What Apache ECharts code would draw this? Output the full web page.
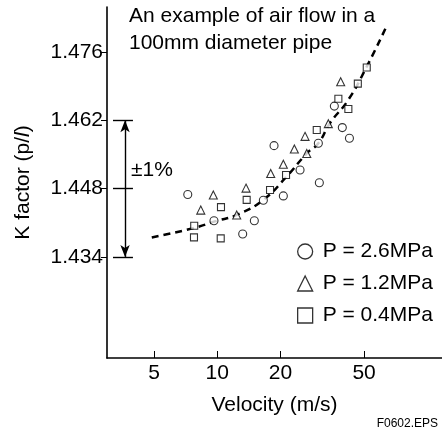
<!DOCTYPE html>
<html><head><meta charset="utf-8">
<script src="https://cdn.jsdelivr.net/npm/echarts@6/dist/echarts.min.js"></script>
<style>html,body{margin:0;padding:0;background:#fff}#c{width:442px;height:438px}</style>
</head><body><div id="c"></div>
<script>
// tick labels
const xTicks = [5, 10, 20, 50];
const yTicks = [1.434, 1.448, 1.462, 1.476];
// series values [velocity m/s, K factor]
const p26 = [[7.24,1.4468],[9.65,1.4414],[13.22,1.4387],[15.02,1.4414],[16.58,1.4456],[20.64,1.4465],[18.64,1.4568],[24.79,1.4518],[30.63,1.4492],[30.3,1.4573],[36.1,1.4649],[39.4,1.4605],[42.6,1.4583]];
const p12 = [[8.35,1.4436],[9.58,1.4467],[12.38,1.4426],[13.71,1.4481],[17.97,1.4511],[20.64,1.4530],[23.29,1.4561],[26.68,1.4552],[26.18,1.4587],[33.8,1.4613],[38.7,1.4699]];
const p04 = [[7.75,1.4380],[7.77,1.4404],[10.39,1.4378],[10.42,1.4442],[13.81,1.4457],[17.84,1.4477],[21.26,1.4508],[29.77,1.4600],[37.73,1.4664],[42.1,1.4643],[46.7,1.4695],[51.5,1.4728]];
const curve = [[4.88,1.4380],[7.69,1.4399],[9.95,1.4414],[12.38,1.4426],[16.58,1.4457],[21.42,1.4505],[26.68,1.4552],[30.3,1.4573],[34.4,1.4614],[42.1,1.4662],[51.5,1.4730],[63.4,1.4809]];
const names = ['P = 2.6MPa','P = 1.2MPa','P = 0.4MPa'];
// ±1% band
const bandX = 3.64, bandL = 3.19, bandR = 3.97;
const bandY = [1.434, 1.448, 1.462];

const FONT = '"Liberation Sans", Arial, Helvetica, sans-serif';
const FS = 21;
const chart = echarts.init(document.getElementById('c'), null, {renderer:'canvas', width:442, height:438});
const mk = {color:'#fff', borderColor:'#000', borderWidth:1.1};
chart.setOption({
  animation:false,
  textStyle:{fontFamily:FONT, color:'#000'},
  grid:{left:107, right:0, top:7, bottom:80, containLabel:false, outerBoundsMode:'none'},
  xAxis:{type:'log', min:2.987, max:117.5, logBase:10,
    name:'Velocity (m/s)', nameLocation:'middle', nameGap:37,
    nameTextStyle:{fontSize:FS, fontFamily:FONT, color:'#000'},
    axisLine:{lineStyle:{color:'#000', width:1.6}},
    axisTick:{inside:true, length:7, customValues:xTicks, lineStyle:{color:'#000', width:1}},
    axisLabel:{customValues:xTicks, fontSize:FS, fontFamily:FONT, color:'#000', margin:5},
    splitLine:{show:false}, minorTick:{show:false}},
  yAxis:{type:'value', min:1.4133, max:1.4852,
    name:'K factor (p/{i|l})', nameLocation:'middle', nameGap:73, nameRotate:90,
    nameTextStyle:{fontSize:FS, fontFamily:FONT, color:'#000', rich:{i:{fontStyle:'italic', fontSize:FS, fontFamily:FONT}}},
    axisLine:{show:true, lineStyle:{color:'#000', width:1.6}},
    axisTick:{show:true, length:6, customValues:yTicks, lineStyle:{color:'#000', width:1}},
    axisLabel:{customValues:yTicks, fontSize:FS, fontFamily:FONT, color:'#000', margin:4, formatter:v=>v.toFixed(3)},
    splitLine:{show:false}},
  legend:{orient:'vertical', left:292, top:236, itemWidth:15, itemHeight:15, itemGap:11,
    data:[{name:names[0], icon:'circle'},{name:names[1], icon:'triangle'},{name:names[2], icon:'rect'}],
    itemStyle:{color:'#fff', borderColor:'#000', borderWidth:1.3},
    textStyle:{fontSize:FS, fontFamily:FONT, color:'#000', padding:[0,0,0,5]}},
  title:{text:'An example of air flow in a\n100mm diameter pipe', left:129, top:3, padding:0,
    textStyle:{fontSize:FS, fontWeight:'normal', fontFamily:FONT, color:'#000', lineHeight:27}},
  graphic:[
    {type:'text', left:131, top:160, style:{text:'±1%', fontSize:FS, fontFamily:FONT, fill:'#000'}},
    {type:'text', right:4, top:418, style:{text:'F0602.EPS', fontSize:12, fontFamily:FONT, fill:'#000'}}
  ],
  series:[
    {name:'fit', type:'line', data:curve, smooth:0.5, showSymbol:false, symbol:'none',
      lineStyle:{color:'#000', width:2.5, type:[7,5]}, z:1,
      markLine:{silent:true, symbol:['none','none'], animation:false,
        lineStyle:{color:'#000', type:'solid', width:1.4}, label:{show:false},
        data:[
          [{coord:[bandX,bandY[0]], symbol:'arrow', symbolSize:[7,12]},{coord:[bandX,bandY[2]], symbol:'arrow', symbolSize:[7,12]}],
          [{coord:[bandL,bandY[0]]},{coord:[bandR,bandY[0]]}],
          [{coord:[bandL,bandY[1]]},{coord:[bandR,bandY[1]]}],
          [{coord:[bandL,bandY[2]]},{coord:[bandR,bandY[2]]}]
        ]}},
    {name:names[0], type:'scatter', symbol:'circle', symbolSize:8, data:p26, itemStyle:mk, z:3},
    {name:names[1], type:'scatter', symbol:'triangle', symbolSize:8, data:p12, itemStyle:mk, z:3},
    {name:names[2], type:'scatter', symbol:'rect', symbolSize:7, data:p04, itemStyle:mk, z:3}
  ]
});
</script></body></html>
